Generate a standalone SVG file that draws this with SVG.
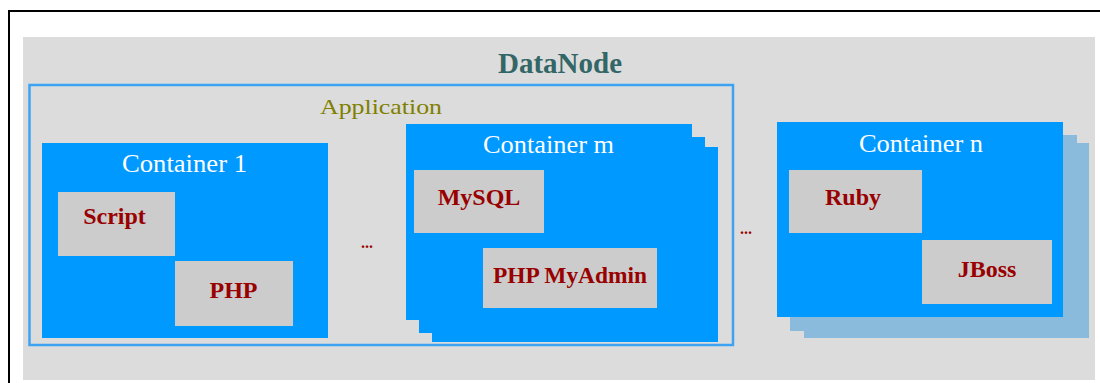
<svg xmlns="http://www.w3.org/2000/svg" width="1100" height="383" viewBox="0 0 1100 383">
<style>
  .frame{fill:none;stroke:#000;stroke-width:2}
  .node{fill:#dcdcdc}
  .app{fill:none;stroke:#3da2f2;stroke-width:2.5}
  .cont{fill:#0099ff}
  .shadow{fill:#8abbdd}
  .item{fill:#cccccc}
  .title{font-family:"Liberation Serif",serif;font-weight:bold;font-size:29px;fill:#336666;text-anchor:middle}
  .apptext{font-family:"Liberation Serif",serif;font-size:21px;fill:#808000;text-anchor:middle}
  .ctext{font-family:"Liberation Serif",serif;font-size:26px;fill:#ffffff;text-anchor:middle}
  .itext{font-family:"Liberation Serif",serif;font-weight:bold;font-size:24px;fill:#990000;text-anchor:middle}
  .dots{font-family:"Liberation Serif",serif;font-weight:bold;font-size:16px;fill:#990000;text-anchor:middle}
</style>
<rect width="1100" height="383" fill="#ffffff"/>
<path class="frame" d="M9,384 V11 H1101"/>
<g id="datanode">
  <rect class="node" x="23" y="37" width="1072" height="343"/>
  <text class="title" x="560" y="73" textLength="124" lengthAdjust="spacingAndGlyphs">DataNode</text>
</g>
<g id="application">
  <rect class="app" x="29.5" y="85" width="703.5" height="260"/>
  <text class="apptext" x="381" y="114" textLength="122" lengthAdjust="spacingAndGlyphs">Application</text>
</g>
<g id="container1">
  <rect class="cont" x="42" y="143" width="286" height="195"/>
  <text class="ctext" x="184.5" y="172" textLength="125" lengthAdjust="spacingAndGlyphs">Container 1</text>
</g>
<g id="script">
  <rect class="item" x="58" y="192" width="117" height="64"/>
  <text class="itext" x="114.5" y="224">Script</text>
</g>
<g id="php">
  <rect class="item" x="175" y="261" width="118" height="65"/>
  <text class="itext" x="233.5" y="298">PHP</text>
</g>
<g id="dots1">
  <text class="dots" x="367" y="248">...</text>
</g>
<g id="containerm">
  <rect class="cont" x="432" y="147" width="286" height="195"/>
  <rect class="cont" x="419" y="137" width="286" height="196"/>
  <rect class="cont" x="406" y="124" width="286" height="196"/>
  <text class="ctext" x="548.5" y="153" textLength="131" lengthAdjust="spacingAndGlyphs">Container m</text>
</g>
<g id="mysql">
  <rect class="item" x="414" y="170" width="130" height="63"/>
  <text class="itext" x="479" y="205">MySQL</text>
</g>
<g id="phpmyadmin">
  <rect class="item" x="483" y="248" width="174" height="60"/>
  <text class="itext" x="570" y="283" textLength="154" lengthAdjust="spacingAndGlyphs">PHP MyAdmin</text>
</g>
<g id="dots2">
  <text class="dots" x="746" y="234">...</text>
</g>
<g id="containern">
  <rect class="shadow" x="804" y="143" width="285" height="195"/>
  <rect class="shadow" x="790" y="135" width="287" height="196"/>
  <rect class="cont" x="777" y="122" width="286" height="195"/>
  <text class="ctext" x="921" y="152" textLength="124" lengthAdjust="spacingAndGlyphs">Container n</text>
</g>
<g id="ruby">
  <rect class="item" x="789" y="170" width="133" height="63"/>
  <text class="itext" x="853" y="205">Ruby</text>
</g>
<g id="jboss">
  <rect class="item" x="922" y="240" width="130" height="64"/>
  <text class="itext" x="987" y="277">JBoss</text>
</g>
</svg>
